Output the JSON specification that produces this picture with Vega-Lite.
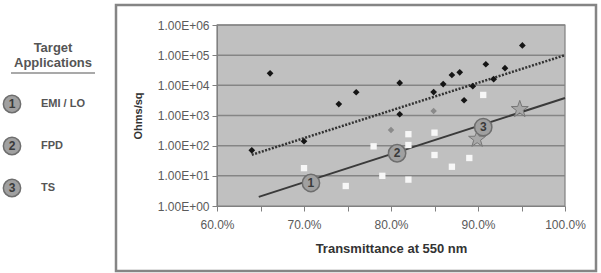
{
  "$schema": "https://vega.github.io/schema/vega-lite/v6.json",
  "padding": {"left": 0, "top": 3, "right": 0, "bottom": 0},
  "background": "white",
  "config": {
    "view": {"stroke": null},
    "font": "Liberation Sans",
    "concat": {"spacing": 13}
  },
  "hconcat": [
    {
      "width": 100,
      "height": 266,
      "layer": [
        {
          "data": {"values": [{"title": "Target Applications"}]},
          "mark": {"type": "text", "text": ["Target", "Applications"], "font": "Liberation Sans", "fontSize": 13, "fontWeight": "bold", "color": "#555555", "align": "center", "baseline": "middle", "lineHeight": 15},
          "encoding": {
            "x": {"datum": 0.52, "type": "quantitative", "scale": {"domain": [0, 1], "nice": false, "zero": false}, "axis": null},
            "y": {"datum": -0.34, "type": "quantitative", "scale": {"domain": [-1.357, 4.976], "nice": false, "zero": false, "reverse": true}, "axis": null}
          }
        },
        {
          "data": {"values": [{"title": "Target Applications"}]},
          "mark": {"type": "rule", "color": "#555555", "strokeWidth": 1.2},
          "encoding": {
            "x": {"datum": 0.1, "type": "quantitative"},
            "x2": {"datum": 0.94},
            "y": {"datum": 0.262, "type": "quantitative"}
          }
        },
        {
          "data": {"values": [
            {"num": 1, "label": "EMI / LO"},
            {"num": 2, "label": "FPD"},
            {"num": 3, "label": "TS"}
          ]},
          "layer": [
            {
              "mark": {"type": "point", "shape": "circle", "filled": true, "size": 300, "fill": "#a0a0a0", "stroke": "#6e6e6e", "strokeWidth": 1.5, "opacity": 1},
              "encoding": {
                "x": {"datum": 0.11, "type": "quantitative"},
                "y": {"field": "num", "type": "quantitative"}
              }
            },
            {
              "mark": {"type": "text", "font": "Liberation Sans", "fontSize": 12, "fontWeight": "bold", "color": "#3a3a3a", "align": "center", "baseline": "middle"},
              "encoding": {
                "x": {"datum": 0.11, "type": "quantitative"},
                "y": {"field": "num", "type": "quantitative"},
                "text": {"field": "num", "type": "nominal"}
              }
            },
            {
              "mark": {"type": "text", "font": "Liberation Sans", "fontSize": 11, "fontWeight": "bold", "color": "#555555", "align": "left", "baseline": "middle"},
              "encoding": {
                "x": {"datum": 0.40, "type": "quantitative"},
                "y": {"field": "num", "type": "quantitative"},
                "text": {"field": "label", "type": "nominal"}
              }
            }
          ]
        }
      ]
    },
    {
      "width": 480,
      "height": 266,
      "view": {"stroke": "#858585", "strokeWidth": 2.5},
      "layer": [
        {
          "data": {"values": [{"area": "plot"}]},
          "mark": {"type": "rect", "fill": "#c0c0c0", "stroke": "#808080", "strokeWidth": 1.2},
          "encoding": {
            "x": {"datum": 60, "type": "quantitative",
              "scale": {"domain": [60, 100], "range": [101, 449], "nice": false, "zero": false},
              "axis": {
                "orient": "bottom", "offset": -65, "zindex": 1,
                "values": [60, 65, 70, 75, 80, 85, 90, 95, 100],
                "labelExpr": "datum.value % 10 === 0 ? format(datum.value, '.1f') + '%' : ''",
                "grid": false, "tickSize": 5, "tickColor": "#808080", "domainColor": "#808080",
                "labelColor": "#5a5a5a", "labelFontSize": 12, "labelFont": "Liberation Sans", "labelPadding": 8,
                "labelFlush": false, "labelOverlap": false,
                "title": "Transmittance at 550 nm", "titleFontSize": 13, "titleFontWeight": "bold", "titleColor": "#333333", "titleFont": "Liberation Sans", "titlePadding": 12
              }
            },
            "x2": {"datum": 100},
            "y": {"datum": 1, "type": "quantitative",
              "scale": {"type": "log", "domain": [1, 1000000], "range": [201, 20], "nice": false},
              "axis": {
                "orient": "left", "offset": -101, "zindex": 1,
                "values": [1, 10, 100, 1000, 10000, 100000, 1000000],
                "labelExpr": "'1.00E+0' + round(log(datum.value) / LN10)",
                "grid": false, "tickSize": 5, "tickColor": "#808080", "domainColor": "#808080",
                "labelColor": "#5a5a5a", "labelFontSize": 12, "labelFont": "Liberation Sans", "labelPadding": 3,
                "labelFlush": false, "labelOverlap": false,
                "title": "Ohms/sq", "titleFontSize": 11, "titleFontWeight": "bold", "titleColor": "#333333", "titleFont": "Liberation Sans", "titlePadding": 14
              }
            },
            "y2": {"datum": 1000000}
          }
        },
        {
          "data": {"values": [{"v": 10}, {"v": 100}, {"v": 1000}, {"v": 10000}, {"v": 100000}, {"v": 1000000}]},
          "mark": {"type": "rule", "color": "#858585", "strokeWidth": 1.5},
          "encoding": {
            "x": {"datum": 60, "type": "quantitative"},
            "x2": {"datum": 100},
            "y": {"field": "v", "type": "quantitative"}
          }
        },
        {
          "data": {"values": [{"t": 64.0, "r": 50}, {"t": 100, "r": 100000}]},
          "mark": {"type": "line", "color": "#333333", "strokeWidth": 2.5, "strokeDash": [2, 1.5]},
          "encoding": {
            "x": {"field": "t", "type": "quantitative"},
            "y": {"field": "r", "type": "quantitative"}
          }
        },
        {
          "data": {"values": [{"t": 64.8, "r": 2}, {"t": 100, "r": 3800}]},
          "mark": {"type": "line", "color": "#3a3a3a", "strokeWidth": 2},
          "encoding": {
            "x": {"field": "t", "type": "quantitative"},
            "y": {"field": "r", "type": "quantitative"}
          }
        },
        {
          "data": {"values": [
            {"t": 64.0, "r": 70, "kind": "black"},
            {"t": 66.1, "r": 25000, "kind": "black"},
            {"t": 70.0, "r": 140, "kind": "black"},
            {"t": 74.0, "r": 2400, "kind": "black"},
            {"t": 76.0, "r": 5900, "kind": "black"},
            {"t": 81.0, "r": 12000, "kind": "black"},
            {"t": 81.0, "r": 1100, "kind": "black"},
            {"t": 84.9, "r": 6000, "kind": "black"},
            {"t": 86.0, "r": 11000, "kind": "black"},
            {"t": 87.0, "r": 22000, "kind": "black"},
            {"t": 87.9, "r": 27000, "kind": "black"},
            {"t": 88.4, "r": 3200, "kind": "black"},
            {"t": 89.4, "r": 9400, "kind": "black"},
            {"t": 90.9, "r": 50000, "kind": "black"},
            {"t": 91.8, "r": 16000, "kind": "black"},
            {"t": 93.1, "r": 37000, "kind": "black"},
            {"t": 95.1, "r": 210000, "kind": "black"},
            {"t": 80.0, "r": 330, "kind": "gray"},
            {"t": 84.9, "r": 1400, "kind": "gray"},
            {"t": 70.0, "r": 18, "kind": "white"},
            {"t": 74.8, "r": 4.6, "kind": "white"},
            {"t": 78.0, "r": 95, "kind": "white"},
            {"t": 79.0, "r": 10, "kind": "white"},
            {"t": 82.0, "r": 240, "kind": "white"},
            {"t": 82.0, "r": 105, "kind": "white"},
            {"t": 82.0, "r": 7.5, "kind": "white"},
            {"t": 85.0, "r": 270, "kind": "white"},
            {"t": 85.0, "r": 49, "kind": "white"},
            {"t": 87.0, "r": 20, "kind": "white"},
            {"t": 89.0, "r": 39, "kind": "white"},
            {"t": 90.6, "r": 4800, "kind": "white"}
          ]},
          "mark": {"type": "point", "filled": true, "opacity": 1, "strokeWidth": 0},
          "encoding": {
            "x": {"field": "t", "type": "quantitative"},
            "y": {"field": "r", "type": "quantitative"},
            "shape": {"field": "kind", "type": "nominal", "scale": {"domain": ["black", "gray", "white"], "range": ["diamond", "diamond", "square"]}, "legend": null},
            "color": {"field": "kind", "type": "nominal", "scale": {"domain": ["black", "gray", "white"], "range": ["#151515", "#8a8a8a", "#f7f7f7"]}, "legend": null},
            "size": {"field": "kind", "type": "nominal", "scale": {"domain": ["black", "gray", "white"], "range": [45, 40, 30]}, "legend": null}
          }
        },
        {
          "data": {"values": [{"t": 94.8, "r": 1600}, {"t": 89.9, "r": 165}]},
          "mark": {"type": "point", "shape": "M0,-1L0.235,-0.324L0.951,-0.309L0.38,0.124L0.588,0.809L0,0.4L-0.588,0.809L-0.38,0.124L-0.951,-0.309L-0.235,-0.324Z", "filled": true, "size": 320, "fill": "#a8a8a8", "stroke": "#777777", "strokeWidth": 1, "opacity": 1},
          "encoding": {
            "x": {"field": "t", "type": "quantitative"},
            "y": {"field": "r", "type": "quantitative"}
          }
        },
        {
          "data": {"values": [{"t": 70.8, "r": 5.8, "n": "1"}, {"t": 80.7, "r": 56, "n": "2"}, {"t": 90.6, "r": 410, "n": "3"}]},
          "layer": [
            {
              "mark": {"type": "point", "shape": "circle", "filled": true, "size": 300, "fill": "#a0a0a0", "stroke": "#6e6e6e", "strokeWidth": 1.5, "opacity": 1},
              "encoding": {
                "x": {"field": "t", "type": "quantitative"},
                "y": {"field": "r", "type": "quantitative"}
              }
            },
            {
              "mark": {"type": "text", "font": "Liberation Sans", "fontSize": 12, "fontWeight": "bold", "color": "#3a3a3a", "align": "center", "baseline": "middle"},
              "encoding": {
                "x": {"field": "t", "type": "quantitative"},
                "y": {"field": "r", "type": "quantitative"},
                "text": {"field": "n", "type": "nominal"}
              }
            }
          ]
        }
      ]
    }
  ]
}
